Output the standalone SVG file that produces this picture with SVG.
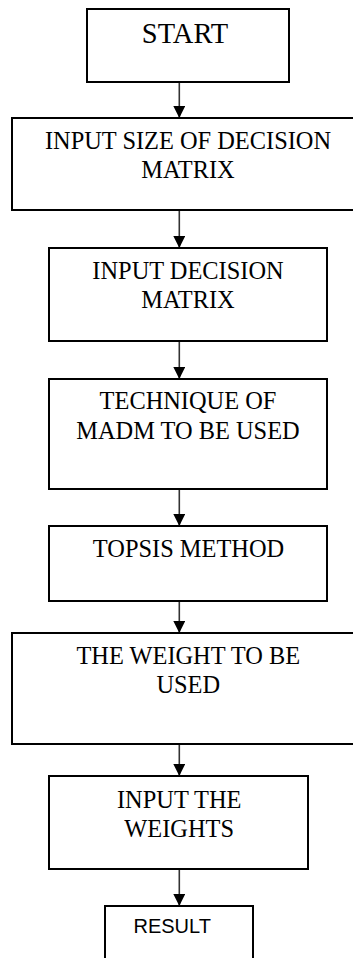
<svg xmlns="http://www.w3.org/2000/svg" width="353" height="958" viewBox="0 0 353 958">
  <style>
    .box { fill: #ffffff; stroke: #000000; stroke-width: 2; }
    .lbl { font-family: "Liberation Serif", "Times New Roman", serif; font-size: 24.4px; fill: #000000; text-anchor: middle; }
    .big { font-size: 28.5px; }
    .sans { font-family: "Liberation Sans", Arial, sans-serif; font-size: 20px; fill: #000000; text-anchor: middle; }
    .flow { stroke: #333333; stroke-width: 1.6; fill: none; marker-end: url(#head); }
  </style>
  <defs>
    <marker id="head" viewBox="0 0 12 12" refX="12" refY="6" markerWidth="12" markerHeight="12" markerUnits="userSpaceOnUse" orient="auto">
      <path d="M0,0 L12,6 L0,12 Z" fill="#000000"/>
    </marker>
  </defs>
  <rect width="353" height="958" fill="#ffffff"/>

  <g id="connectors">
    <line class="flow" x1="179.3" y1="82" x2="179.3" y2="118"/>
    <line class="flow" x1="179.3" y1="210" x2="179.3" y2="248"/>
    <line class="flow" x1="179.3" y1="341" x2="179.3" y2="379"/>
    <line class="flow" x1="179.3" y1="489" x2="179.3" y2="526"/>
    <line class="flow" x1="179.3" y1="601" x2="179.3" y2="633"/>
    <line class="flow" x1="179.3" y1="744" x2="179.3" y2="776"/>
    <line class="flow" x1="179.3" y1="869" x2="179.3" y2="906"/>
  </g>

  <g id="start">
    <rect class="box" x="87" y="9" width="202" height="73"/>
    <text class="lbl big" x="185" y="43">START</text>
  </g>

  <g id="input-size">
    <rect class="box" x="12" y="118" width="360" height="92"/>
    <text class="lbl" x="188" y="148.5">INPUT SIZE OF DECISION</text>
    <text class="lbl" x="188" y="177.5">MATRIX</text>
  </g>

  <g id="input-matrix">
    <rect class="box" x="49" y="248" width="278" height="93"/>
    <text class="lbl" x="188" y="278.5">INPUT DECISION</text>
    <text class="lbl" x="188" y="307.5">MATRIX</text>
  </g>

  <g id="technique">
    <rect class="box" x="49" y="379" width="278" height="110"/>
    <text class="lbl" x="188" y="408.5">TECHNIQUE OF</text>
    <text class="lbl" x="188" y="438.5">MADM TO BE USED</text>
  </g>

  <g id="topsis">
    <rect class="box" x="49" y="526" width="278" height="75"/>
    <text class="lbl" x="188.5" y="557">TOPSIS METHOD</text>
  </g>

  <g id="weight-choice">
    <rect class="box" x="12" y="633" width="360" height="111"/>
    <text class="lbl" x="188.3" y="664">THE WEIGHT TO BE</text>
    <text class="lbl" x="188.3" y="692.5">USED</text>
  </g>

  <g id="input-weights">
    <rect class="box" x="49" y="776" width="259" height="93"/>
    <text class="lbl" x="179.2" y="807.5">INPUT THE</text>
    <text class="lbl" x="179.2" y="836.5">WEIGHTS</text>
  </g>

  <g id="result">
    <rect class="box" x="105" y="906" width="148" height="80"/>
    <text class="sans" x="172.2" y="932.7">RESULT</text>
  </g>
</svg>
